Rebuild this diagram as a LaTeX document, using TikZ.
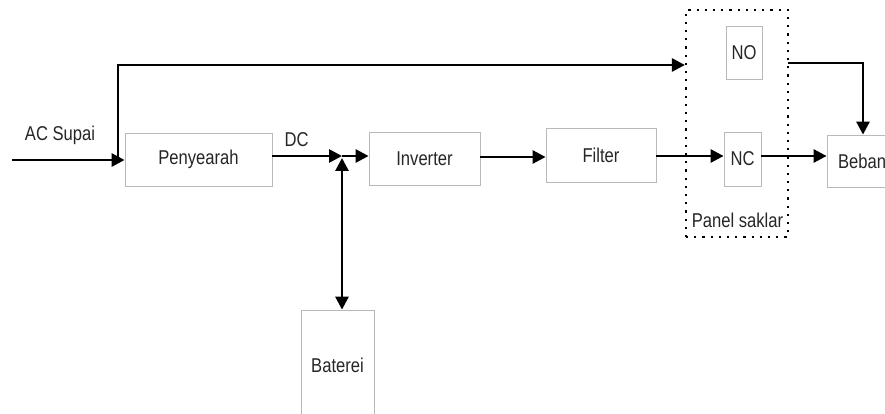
\documentclass[tikz,border=0pt]{standalone}
\usepackage{fontspec}
\setmainfont[FakeStretch=0.83]{Liberation Sans}
\usepackage{tikz}
\usetikzlibrary{arrows.meta,positioning,calc}

\begin{document}
\begin{tikzpicture}[
    x=1pt, y=-1pt,
    block/.style={rectangle, draw=gray!55, line width=0.8pt, inner sep=0pt, text=black!85, font=\fontsize{20}{22}\selectfont},
    lbl/.style={inner sep=0pt, text=black!85, font=\fontsize{20}{22}\selectfont},
    arr/.style={-{Triangle[length=13pt,width=13pt]}, line width=2.8pt},
    biarr/.style={{Triangle[length=13pt,width=13pt]}-{Triangle[length=13pt,width=13pt]}, line width=2.8pt},
    panelbox/.style={rectangle, draw, line width=2.2pt, dash pattern=on 2.2pt off 6pt, inner sep=0pt}
]
    \useasboundingbox (0,0) rectangle (885,414);

    % Main chain
    \node[block, minimum width=147pt, minimum height=53pt] (rect)  at (198.5,159.5) {Penyearah};
    \node[block, minimum width=111pt, minimum height=53pt] (inv)   at (424.5,158.5) {Inverter};
    \node[block, minimum width=110pt, minimum height=54pt] (filt)  at (601,155)     {Filter};
    \node[block, minimum width=37pt,  minimum height=54pt] (nc)    at (742.5,159)   {NC};
    \node[block, minimum width=36pt,  minimum height=53pt] (no)    at (744,52.5)    {NO};
    \node[block, minimum width=70pt,  minimum height=52pt] (beban) at (862,161)     {Beban};
    \node[block, minimum width=73pt,  minimum height=110pt] (bat)  at (337.5,365)   {Baterei};

    % Switch panel
    \node[panelbox, minimum width=102pt, minimum height=227pt] (panel) at (737,123.5) {};

    % Helper points
    \coordinate (acin) at (12,160);
    \coordinate (split) at (118,160);
    \coordinate (j) at (342,156);
    \coordinate (noout) at (788,63);

    % AC input and bypass
    \draw[arr] (acin) -- (rect.west |- acin);
    \draw[arr] (split) -- (118,65) -- (panel.west |- 0,65);
    \draw[arr] (noout) -| (beban.north -| 863,0);

    % DC bus
    \draw[arr] (rect.east |- j) -- (j);
    \draw[arr] (j) -- (inv.west |- j);
    \draw[biarr] ($(j)+(0,2)$) -- (j |- bat.north);

    % AC output chain
    \draw[arr] (inv.east |- 0,157) -- (filt.west |- 0,157);
    \draw[arr] (filt.east |- 0,156) -- (nc.west |- 0,156);
    \draw[arr] (nc.east |- 0,156) -- (beban.west |- 0,156);

    % Labels
    \node[lbl] (aclbl)    at (60,135)    {AC Supai};
    \node[lbl] (dclbl)    at (296.5,140) {DC};
    \node[lbl] (panellbl) at (737.5,220) {Panel saklar};
\end{tikzpicture}
\end{document}
